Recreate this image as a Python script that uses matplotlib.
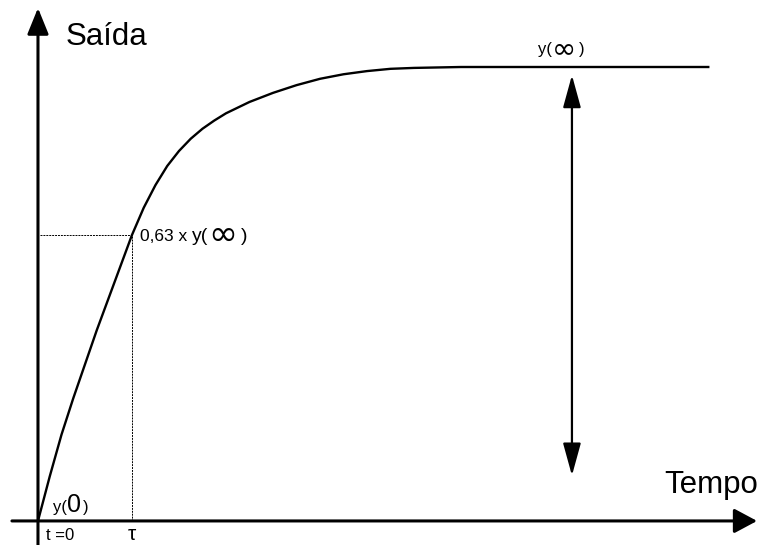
import matplotlib.pyplot as plt

plt.rcParams['font.family'] = ['Liberation Sans', 'DejaVu Sans']

# step response of a first order system (time in units of tau, output / y(inf))
t = [0, 0.125, 0.25, 0.375, 0.5, 0.625, 0.75, 0.875, 1.0, 1.125, 1.25, 1.375, 1.5,
     1.625, 1.75, 1.875, 2.0, 2.25, 2.5, 2.75, 3.0, 3.25, 3.5, 3.75, 4.0, 4.5, 7.13]
y = [0, 0.098, 0.19, 0.27, 0.345, 0.42, 0.49, 0.56, 0.63, 0.69, 0.74, 0.782, 0.815,
     0.842, 0.864, 0.882, 0.898, 0.923, 0.943, 0.96, 0.974, 0.984, 0.991, 0.996, 0.998, 1.0, 1.0]

tau = 1.0
frac = 0.63          # fraction of y(inf) reached at t = tau
y_inf = 1.0

fig = plt.figure(figsize=(7.61, 5.45), dpi=100)
ax = fig.add_axes([0, 0, 1, 1])
ax.set_xlim(-0.404, 7.691)
ax.set_ylim(-0.053, 1.1476)
ax.axis('off')


def arrow(x0, y0, x1, y1, lw, hl, hw, style='-|>'):
    ax.annotate('', xy=(x1, y1), xytext=(x0, y0),
                arrowprops=dict(arrowstyle=f'{style},head_length={hl},head_width={hw}',
                                lw=lw, color='black', shrinkA=0, shrinkB=0,
                                mutation_scale=10))


def text_run(x, y0, parts):
    # pieces of text one after another: (text, size, family, extra gap px, shift px)
    renderer = fig.canvas.get_renderer()
    dx = 0
    for s, size, family, gap, dy in parts:
        txt = ax.annotate(s, (x, y0), xytext=(dx, dy), textcoords='offset pixels',
                          fontsize=size, family=family, va='baseline', ha='left')
        dx += txt.get_window_extent(renderer).width + gap


sans = ['Liberation Sans', 'DejaVu Sans']
dv = ['DejaVu Sans']

# axes
arrow(-0.277, 0, 7.649, 0, 2.2, 1.4, 0.75)
arrow(0, -0.053, 0, 1.13, 2.2, 1.6, 0.65)

# response curve
ax.plot(t, y, color='black', lw=1.7, solid_joinstyle='round')

# 63% construction lines
ax.plot([0.02, tau], [frac * y_inf, frac * y_inf], color='black', lw=0.7, ls=(0, (2, 1)))
ax.plot([tau, tau], [0, frac * y_inf], color='black', lw=0.7, ls=(0, (2, 1)))

# span between y(0) and y(inf)
arrow(5.68, 0.10, 5.68, 0.982, 1.6, 2.0, 0.55, style='<|-|>')

ax.text(0.298, 1.048, 'Saída', fontsize=22.5, va='baseline')
ax.text(7.66, 0.0617, 'Tempo', fontsize=22.5, va='baseline', ha='right')

text_run(5.32, 1.0286, [('y(', 12, sans, 0, 0), ('∞', 21, dv, 3, -3),
                        (')', 12, sans, 0, 0)])
text_run(1.085, frac * y_inf - 0.013,
         [('0,63 x ', 12.5, sans, 0, 0), ('y(', 14, sans, 0, 0), ('∞', 25, dv, 3, -4),
          (')', 14, sans, 0, 0)])
text_run(0.16, 0.02, [('y(', 12, sans, 0, 0), ('0', 18, sans, 2, 0), (')', 12, sans, 0, 0)])
ax.text(0.085, -0.043, 't =0', fontsize=12, va='baseline')
ax.text(tau, -0.043, 'τ', fontsize=15, va='baseline', ha='center')

fig.savefig('out.png', dpi=100)
